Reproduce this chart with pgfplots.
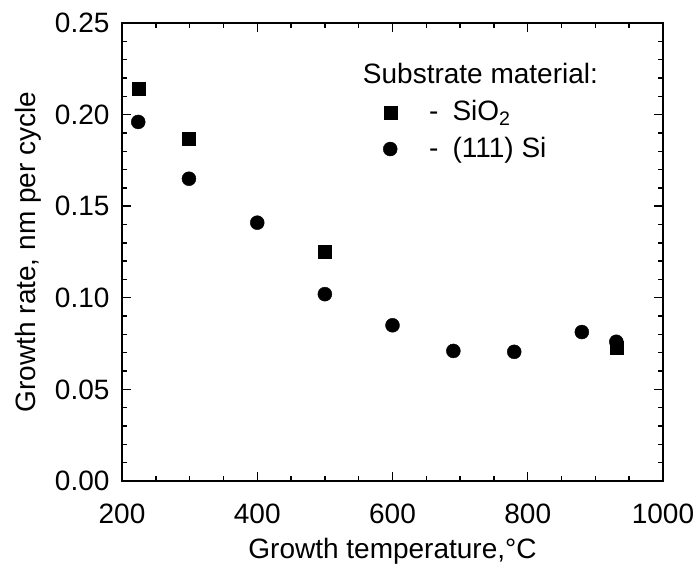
\documentclass[border=0pt]{standalone}
\usepackage{fontspec}
\setmainfont{Liberation Sans}
\usepackage{pgfplots}
\pgfplotsset{compat=1.18}
\begin{document}
\fontsize{28}{33}\selectfont
\begin{tikzpicture}
\begin{axis}[
  scale only axis, width=541pt, height=458pt,
  xmin=200, xmax=1000, ymin=0, ymax=0.25,
  xtick={200,400,600,800,1000}, minor x tick num=3,
  ytick={0,0.05,0.1,0.15,0.2,0.25}, minor y tick num=4,
  tick align=inside, major tick length=9pt, minor tick length=5pt,
  axis line style={line width=1.8pt},
  every tick/.style={line width=1.4pt, black},
  scaled y ticks=false,
  yticklabel style={/pgf/number format/fixed, /pgf/number format/fixed zerofill, /pgf/number format/precision=2, xshift=-3pt},
  xticklabel style={/pgf/number format/1000 sep={}, yshift=-13pt},
  /pgf/number format/assume math mode=true,
  tick label style={font=\fontsize{28}{33}\selectfont},
  label style={font=\fontsize{28}{33}\selectfont},
  xlabel={Growth temperature,°C},
  ylabel={Growth rate, nm per cycle},
  xlabel style={yshift=4pt},
  ylabel style={yshift=-5pt},
  legend cell align=left,
  legend style={draw=none, fill=none, at={(axis cs:586,0.2090)}, anchor=north west,
    inner sep=0pt, font=\fontsize{28}{33}\selectfont, nodes={inner sep=2pt}, row sep=8pt},
  clip=false,
]
\addplot[only marks, mark=square*, mark size=6.5pt, black] coordinates {
  (224,0.214) (299,0.187) (500,0.125) (931,0.073)
};
\addlegendentry{\hspace{30pt}-\hspace{14pt}SiO\textsubscript{2}}
\addplot[only marks, mark=*, mark size=7pt, black] coordinates {
  (224,0.196) (299,0.165) (400,0.141) (500,0.102) (600,0.085)
  (690,0.071) (780,0.0705) (880,0.0813) (931,0.076)
};
\addlegendentry{\hspace{30pt}-\hspace{14pt}(111) Si}
\node[anchor=base west, inner sep=0pt] at (axis cs:556,0.2172) {Substrate material:};
\end{axis}
\pgfresetboundingbox
\path (current axis.south west) ++(-122pt,-88pt) rectangle ++(698pt,569pt);
\end{tikzpicture}
\end{document}
